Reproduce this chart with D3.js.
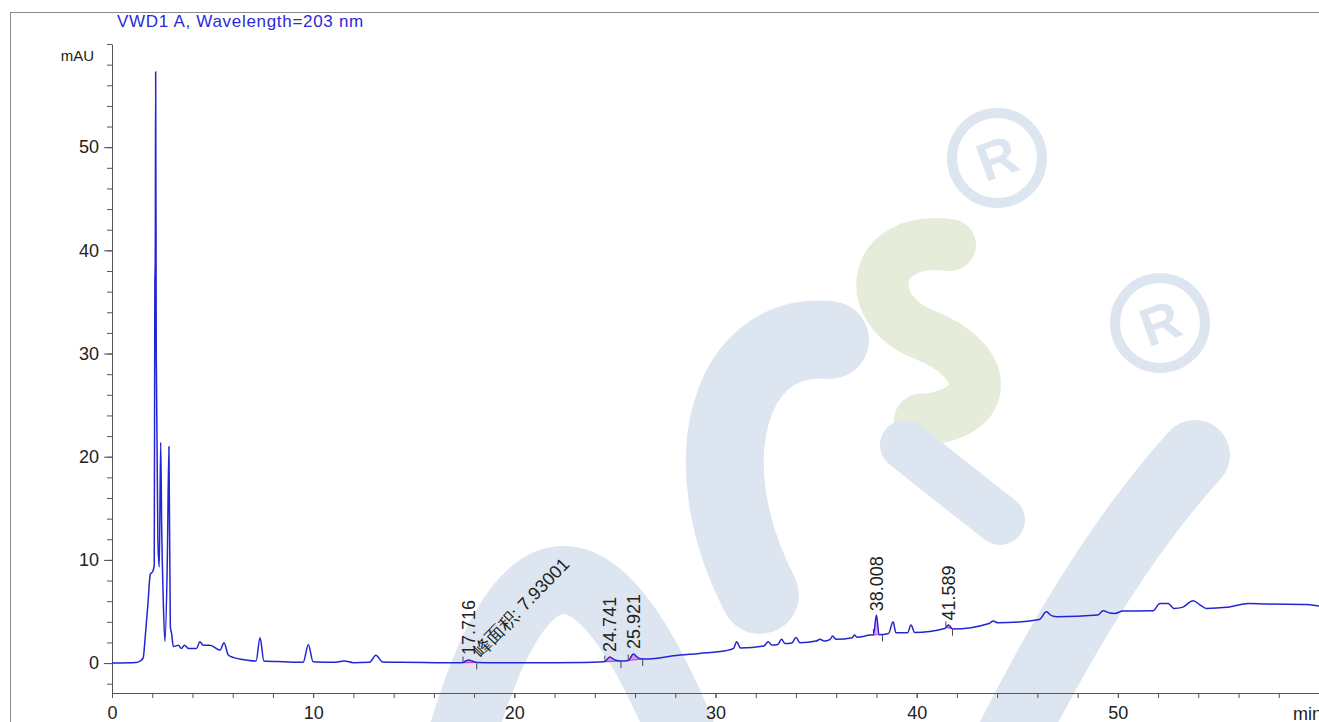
<!DOCTYPE html>
<html>
<head>
<meta charset="utf-8">
<script src="https://cdn.jsdelivr.net/npm/d3@7"></script>
<style>
  body { margin: 0; background: #fff; }
  svg { display: block; font-family: "Liberation Sans", Arial, sans-serif; }
</style>
</head>
<body>
<svg id="chart" width="1319" height="722"></svg>
<script>
// Retention time (min) and detector signal (mAU).
var rtMin = [0, 1.2, 1.4, 1.55, 1.65, 1.8, 1.9, 2.03, 2.1, 2.13,
  2.15, 2.17, 2.2, 2.28, 2.35, 2.42, 2.47, 2.55, 2.63, 2.75,
  2.83, 2.9, 2.96, 3.05, 3.3, 3.45, 3.6, 3.8, 4.2, 4.37,
  4.53, 4.87, 5.37, 5.57, 5.78, 6.03, 6.69, 7.16, 7.36, 7.55,
  8.5, 9.5, 9.76, 10.0, 11.0, 11.55, 12.0, 12.8, 13.12, 13.45,
  14.3, 15.5, 16.5, 17.3, 17.45, 17.6, 17.72, 17.9, 18.13, 19,
  20, 22, 23.5, 24.2, 24.5, 24.74, 25.0, 25.3, 25.66, 25.92,
  26.15, 26.38, 27, 27.9, 29.2, 30.5, 30.9, 31.05, 31.25, 32.4,
  32.62, 32.8, 33.1, 33.28, 33.45, 33.8, 34.0, 34.2, 35.0, 35.2,
  35.4, 35.7, 35.82, 36.0, 36.8, 36.9, 37.05, 37.7, 37.85, 38.0,
  38.13, 38.6, 38.83, 38.97, 39.55, 39.72, 39.9, 41.4, 41.57, 41.8,
  43.6, 43.8, 44.05, 46.1, 46.45, 46.7, 47.0, 49.0, 49.27, 49.6,
  49.85, 50.25, 51.75, 52.09, 52.5, 52.8, 53.2, 53.74, 54.1, 54.4,
  55.4, 56.5, 57.4, 59.4, 60];
var mAU = [0, 0.05, 0.2, 0.5, 2.5, 6.1, 8.6, 8.9, 9.5, 36.8,
  38.9, 57.3, 30, 12, 9.3, 21.4, 13.2, 6, 2.1, 10,
  21.0, 3.5, 2.9, 1.6, 1.74, 1.42, 1.74, 1.42, 1.42, 2.06,
  1.74, 1.74, 1.26, 1.97, 0.78, 0.55, 0.29, 0.2, 2.45, 0.2,
  0.13, 0.07, 1.78, 0.12, 0.07, 0.2, 0.04, 0.07, 0.75, 0.1,
  0.07, 0.05, 0.04, 0.04, 0.05, 0.22, 0.3, 0.2, 0.06, 0.04,
  0.03, 0.03, 0.05, 0.1, 0.15, 0.6, 0.3, 0.2, 0.25, 0.87,
  0.5, 0.4, 0.45, 0.7, 0.94, 1.2, 1.42, 2.06, 1.45, 1.65,
  2.06, 1.75, 1.8, 2.3, 1.9, 1.95, 2.49, 1.97, 2.13, 2.3,
  2.13, 2.3, 2.62, 2.3, 2.45, 2.71, 2.5, 2.71, 2.72, 4.65,
  2.75, 2.87, 4.0, 2.94, 2.95, 3.68, 2.97, 3.36, 3.68, 3.3,
  3.84, 4.07, 3.9, 4.23, 4.97, 4.6, 4.49, 4.65, 5.07, 4.85,
  4.81, 5.04, 5.07, 5.78, 5.78, 5.3, 5.4, 6.04, 5.62, 5.3,
  5.4, 5.78, 5.72, 5.68, 5.52];

// Integrated peaks.
var peakRT = [17.716, 24.741, 25.921, 38.008, 41.589];
var peakStart = [17.45, 24.5, 25.66, 37.85, 41.45];
var peakEnd = [18.13, 25.3, 26.38, 38.3, 41.78];
var areaNote = '峰面积: 7.93001';

var xMajor = [0, 10, 20, 30, 40, 50];
var yMajor = [0, 10, 20, 30, 40, 50];
var title = 'VWD1 A, Wavelength=203 nm';

var svg = d3.select('#chart');
var x = d3.scaleLinear().domain([0, 60]).range([112, 1319]);
var y = d3.scaleLinear().domain([-2.9, 60]).range([693, 44]);

var trace = rtMin.map(function(t, i) { return {t: t, v: mAU[i]}; });

// Linear lookup into the trace.
var bisect = d3.bisector(function(d) { return d.t; }).left;
function valueAt(t) {
  var i = bisect(trace, t);
  if (i <= 0) return trace[0].v;
  if (i >= trace.length) return trace[trace.length - 1].v;
  var a = trace[i - 1], b = trace[i];
  return a.v + (b.v - a.v) * (t - a.t) / (b.t - a.t);
}

// Watermark (faint logo behind the chart).
var wm = svg.append('g').attr('class', 'watermark')
    .attr('fill', 'none').attr('stroke-linecap', 'round');
var wmBlue = '#dde6f0';
wm.append('path').attr('d', 'M450,780 Q552,380 700,780')
    .attr('stroke', wmBlue).attr('stroke-width', 68);
wm.append('path').attr('d', 'M830,340 C730,330 690,460 760,595')
    .attr('stroke', wmBlue).attr('stroke-width', 78);
wm.append('path').attr('d', 'M950,245 C870,235 860,310 925,335 C990,360 995,415 920,420')
    .attr('stroke', '#e6ecda').attr('stroke-width', 52);
wm.append('path').attr('d', 'M905,445 L1000,520')
    .attr('stroke', wmBlue).attr('stroke-width', 50);
wm.append('path').attr('d', 'M1195,455 Q1100,560 1010,740')
    .attr('stroke', wmBlue).attr('stroke-width', 70);
[[997, 158], [1160, 323]].forEach(function(c) {
  wm.append('circle').attr('cx', c[0]).attr('cy', c[1]).attr('r', 45)
      .attr('stroke', wmBlue).attr('stroke-width', 10);
  wm.append('text').attr('x', c[0]).attr('y', c[1] + 19)
      .attr('text-anchor', 'middle').attr('stroke', 'none')
      .attr('transform', 'rotate(-20,' + c[0] + ',' + c[1] + ')')
      .style('font-size', '54px').style('font-weight', 'bold')
      .style('fill', wmBlue).text('R');
});

// Outer frame and title.
svg.append('rect')
    .attr('x', 10.5).attr('y', 12.5).attr('width', 1400).attr('height', 800)
    .attr('fill', 'none').attr('stroke', '#8a8a8a');
svg.append('text')
    .attr('x', 117).attr('y', 27)
    .style('font-size', '17px').style('letter-spacing', '0.7px')
    .style('fill', '#2a2ad8').text(title);

// Axes.
function styleAxis(g) {
  g.selectAll('path, line').attr('stroke', '#555');
  g.selectAll('text').attr('fill', '#222').style('font-size', '18px')
      .style('font-family', '"Liberation Sans", Arial, sans-serif');
}
svg.append('g').attr('transform', 'translate(112,0)')
    .call(d3.axisLeft(y).tickValues(d3.range(-2, 61, 2)).tickSize(5).tickSizeOuter(0).tickFormat(''))
    .call(styleAxis);
svg.append('g').attr('transform', 'translate(112,0)')
    .call(d3.axisLeft(y).tickValues(yMajor).tickSize(8).tickPadding(5).tickSizeOuter(0))
    .call(styleAxis)
    .call(function(g) { g.select('.domain').remove(); });
svg.append('g').attr('transform', 'translate(0,693)')
    .call(d3.axisBottom(x).tickValues(d3.range(0, 61, 2)).tickSize(5).tickSizeOuter(0).tickFormat(''))
    .call(styleAxis);
svg.append('g').attr('transform', 'translate(0,693)')
    .call(d3.axisBottom(x).tickValues(xMajor).tickSize(5).tickPadding(8.5).tickSizeOuter(0))
    .call(styleAxis)
    .call(function(g) { g.select('.domain').remove(); });

svg.append('text').attr('x', 94).attr('y', 61).attr('text-anchor', 'end')
    .style('font-size', '15px').style('fill', '#222').text('mAU');
svg.append('text').attr('x', 1293).attr('y', 719.5)
    .style('font-size', '18px').style('fill', '#222').text('min');

// Integrated peak areas (fill between trace and straight baseline).
var curve = d3.curveMonotoneX;
peakRT.forEach(function(rt, i) {
  var s = peakStart[i], e = peakEnd[i];
  var vs = valueAt(s), ve = valueAt(e);
  var pts = [{t: s, v: vs}].concat(trace.filter(function(d) { return d.t > s && d.t < e; }), [{t: e, v: ve}]);
  var base = function(t) { return vs + (ve - vs) * (t - s) / (e - s); };
  svg.append('path').datum(pts)
      .attr('d', d3.area().curve(curve)
          .x(function(d) { return x(d.t); })
          .y0(function(d) { return y(base(d.t)); })
          .y1(function(d) { return y(d.v); }))
      .attr('fill', 'rgba(225,90,225,0.55)');
  svg.append('line')
      .attr('x1', x(s)).attr('y1', y(vs)).attr('x2', x(e)).attr('y2', y(ve))
      .attr('stroke', '#d23cd2').attr('stroke-width', 1.2);
  svg.append('line')
      .attr('x1', x(s)).attr('x2', x(s)).attr('y1', y(vs) - 1).attr('y2', y(vs) - 6)
      .attr('stroke', '#444').attr('stroke-width', 1);
  svg.append('line')
      .attr('x1', x(e)).attr('x2', x(e)).attr('y1', y(ve) + 1).attr('y2', y(ve) + 7)
      .attr('stroke', '#444').attr('stroke-width', 1);
});

// Chromatogram trace.
svg.append('path').datum(trace)
    .attr('d', d3.line().curve(curve)
        .x(function(d) { return x(d.t); })
        .y(function(d) { return y(d.v); }))
    .attr('fill', 'none')
    .attr('stroke', '#2424d4')
    .attr('stroke-width', 1.5)
    .attr('stroke-linejoin', 'round');

// Retention time labels.
svg.selectAll('.rt-label').data(peakRT).enter().append('text')
    .attr('class', 'rt-label')
    .attr('transform', function(d) {
      return 'translate(' + x(d) + ',' + (y(valueAt(d)) - 5) + ') rotate(-90)';
    })
    .attr('dy', '0.36em')
    .style('font-size', '18px').style('fill', '#222')
    .text(function(d) { return d3.format('.3f')(d); });

svg.append('text')
    .attr('transform', 'translate(' + (x(peakEnd[0]) + 4) + ',' + (y(0) - 5) + ') rotate(-46)')
    .style('font-size', '18px').style('fill', '#222')
    .text(areaNote);
</script>
</body>
</html>
